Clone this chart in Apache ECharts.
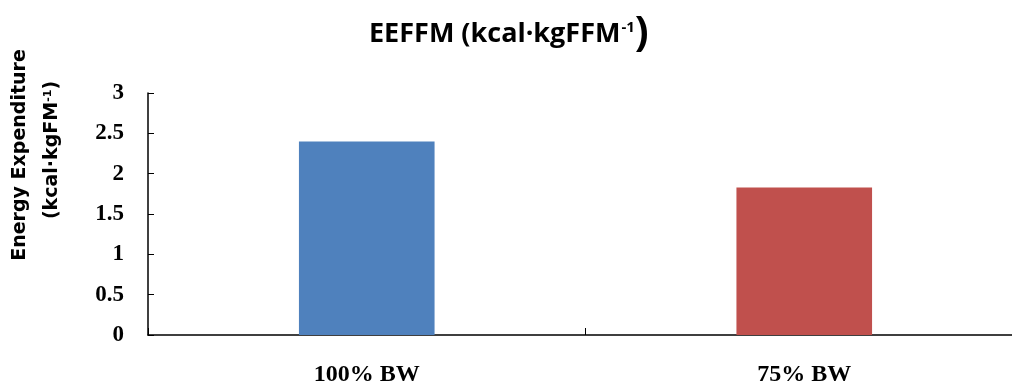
<!DOCTYPE html>
<html>
<head>
<meta charset="utf-8">
<script src="https://cdn.jsdelivr.net/npm/echarts@6/dist/echarts.min.js"></script>
<style>
  html, body { margin: 0; padding: 0; background: #fff; overflow: hidden; }
  #chart { width: 1023px; height: 387px; }
</style>
</head>
<body>
<div id="chart"></div>
<script>
var categories = ["100% BW", "75% BW"];
var values = [2.4, 1.83];
var barColors = ["#4F81BD", "#C0504D"];
var yTicks = [0, 0.5, 1, 1.5, 2, 2.5, 3];

var chart = echarts.init(document.getElementById("chart"));

var option = {
  animation: false,
  title: {
    text: "{a|EEFFM (kcal·kgFFM}{s|-1}{p|)}",
    left: 364,
    top: 9,
    textStyle: {
      rich: {
        a: { fontFamily: "Open Sans", fontWeight: "bold", fontSize: 27, color: "#000", letterSpacing: 0.4 },
        s: { fontFamily: "Open Sans", fontWeight: "bold", fontSize: 15, color: "#000", verticalAlign: "top", padding: [6, 0, 0, 1] },
        p: { fontFamily: "Open Sans", fontWeight: "bold", fontSize: 41, color: "#000" }
      }
    }
  },
  graphic: [
    {
      type: "text",
      x: 20, y: 155,
      rotation: Math.PI / 2,
      style: {
        text: "Energy Expenditure",
        fontFamily: "DejaVu Sans", fontWeight: "bold", fontSize: 19,
        fill: "#000", align: "center", verticalAlign: "middle"
      }
    },
    {
      type: "text",
      x: 52, y: 150,
      rotation: Math.PI / 2,
      style: {
        text: "{t|(kcal·kgFM}{s|-1}{t|)}",
        align: "center", verticalAlign: "middle",
        rich: {
          t: { fontFamily: "DejaVu Sans", fontWeight: "bold", fontSize: 19, fill: "#000" },
          s: { fontFamily: "DejaVu Sans", fontWeight: "bold", fontSize: 11, fill: "#000", verticalAlign: "top" }
        }
      }
    }
  ],
  grid: { left: 148, right: 0, top: 93, bottom: 51 },
  xAxis: {
    type: "category",
    data: categories,
    axisLine: { lineStyle: { color: "#000", width: 1.5 } },
    axisTick: { show: true, inside: true, length: 7, lineStyle: { color: "#000" } },
    axisLabel: { fontFamily: "Liberation Serif", fontWeight: "bold", fontSize: 24, color: "#000", margin: 28 }
  },
  yAxis: {
    type: "value",
    min: yTicks[0],
    max: yTicks[yTicks.length - 1],
    interval: 0.5,
    axisLine: { show: true, lineStyle: { color: "#000", width: 1.5 } },
    axisTick: { show: true, inside: true, length: 6, lineStyle: { color: "#000" } },
    splitLine: { show: false },
    axisLabel: { fontFamily: "Liberation Serif", fontWeight: "bold", fontSize: 23, color: "#000", margin: 24 }
  },
  series: [{
    type: "bar",
    barWidth: "31%",
    data: values.map(function (v, i) {
      return { value: v, itemStyle: { color: barColors[i] } };
    })
  }]
};

chart.setOption(option);
</script>
</body>
</html>
